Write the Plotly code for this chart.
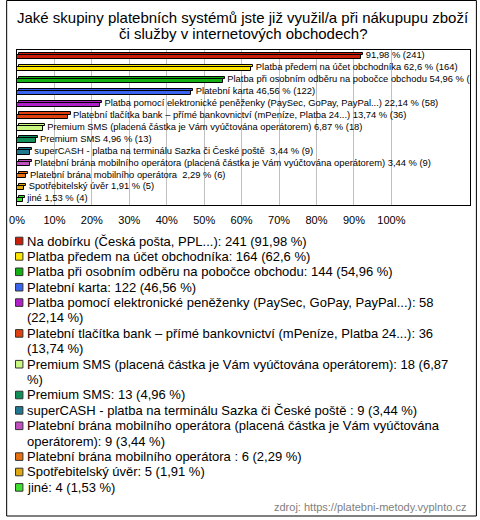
import plotly.graph_objects as go

# ---------------- data ----------------
names = [
    "Na dobírku (Česká pošta, PPL...)",
    "Platba předem na účet obchodníka",
    "Platba při osobním odběru na pobočce obchodu",
    "Platební karta",
    "Platba pomocí elektronické peněženky (PaySec, GoPay, PayPal...)",
    "Platební tlačítka bank – přímé bankovnictví (mPeníze, Platba 24...)",
    "Premium SMS (placená částka je Vám vyúčtována operátorem)",
    "Premium SMS",
    "superCASH - platba na terminálu Sazka či České poště ",
    "Platební brána mobilního operátora (placená částka je Vám vyúčtována operátorem)",
    "Platební brána mobilního operátora ",
    "Spotřebitelský úvěr",
    "jiné",
]
counts = [241, 164, 144, 122, 58, 36, 18, 13, 9, 9, 6, 5, 4]
percents = [91.98, 62.6, 54.96, 46.56, 22.14, 13.74, 6.87, 4.96, 3.44, 3.44, 2.29, 1.91, 1.53]
colors = ["#c81e0a", "#ffe600", "#12b012", "#3a64f0", "#b020c8", "#e04010", "#c8f880",
          "#109058", "#207890", "#c050c0", "#e87010", "#e0a810", "#40e030"]
x_ticks = [0, 10, 20, 30, 40, 50, 60, 70, 80, 90, 100]
x_tick_labels = ["0%", "10%", "20%", "30%", "40%", "50%", "60%", "70%", "80%", "90%", "100%"]
title_lines = ["Jaké skupiny platebních systémů jste již využil/a při nákupupu zboží",
               "či služby v internetových obchodech?"]
source_text = "zdroj: https://platebni-metody.vyplnto.cz"

# ---------------- layout helpers ----------------
W, H = 480, 520
ML, MR, MT, MB = 11, 9, 50, 315
PW, PH = W - ML - MR, H - MT - MB
FONT = "Liberation Sans, Arial, sans-serif"


def px(x):
    return (x - ML) / PW


def py(y):
    return (H - MB - y) / PH


def fmt(v):
    return f"{v:g}".replace(".", ",")


cats = list(range(len(names)))
fig = go.Figure()

# top face (3D look) and front face of each bar
for i in cats:
    fig.add_trace(go.Bar(
        y=[i], x=[percents[i]], base=[0.55], orientation="h",
        width=0.17, offset=-0.26,
        marker=dict(color=colors[i], line=dict(color="#000000", width=1)),
        showlegend=False, hoverinfo="skip"))
    fig.add_trace(go.Bar(
        y=[i], x=[percents[i]], base=[0], orientation="h",
        width=0.36, offset=-0.09,
        marker=dict(color=colors[i], line=dict(color="#000000", width=1)),
        showlegend=False, hoverinfo="skip"))

bar_labels = []
for i in cats:
    val = f"{fmt(percents[i])} % ({counts[i]})"
    bar_labels.append(val if i == 0 else f"{names[i]} {val}")

fig.add_trace(go.Scatter(
    y=cats, x=[p + 1.2 for p in percents], mode="text", text=bar_labels,
    textposition="middle right", cliponaxis=True,
    textfont=dict(family=FONT, size=9.4, color="#000000"),
    showlegend=False, hoverinfo="skip"))

annotations = []
shapes = []

# title
for k, line in enumerate(title_lines):
    annotations.append(dict(x=px(240), y=py(17 + 16 * k), xref="paper", yref="paper",
                            text=line, showarrow=False, xanchor="center", yanchor="middle",
                            font=dict(family=FONT, size=15, color="#000000")))

# legend (custom, below chart)
wrap_after = {4: 68, 5: 71, 6: 67, 9: 68}
line_y = 241
step = 15.4
for i in cats:
    txt = f"{names[i]}: {counts[i]} ({fmt(percents[i])} %)"
    lines = [txt]
    if i in wrap_after:
        n = wrap_after[i]
        lines = [txt[:n].rstrip(), txt[n:].strip()]
    shapes.append(dict(type="rect", xref="paper", yref="paper",
                       x0=px(9.5), x1=px(17), y0=py(line_y - 3.8), y1=py(line_y + 3.8),
                       fillcolor=colors[i], line=dict(color="#333333", width=1)))
    for ln in lines:
        annotations.append(dict(x=px(19.5), y=py(line_y), xref="paper", yref="paper",
                                text=ln, showarrow=False, xanchor="left", yanchor="middle",
                                font=dict(family=FONT, size=13, color="#000000")))
        line_y += step

# source
annotations.append(dict(x=px(469), y=py(507), xref="paper", yref="paper",
                        text=source_text, showarrow=False, xanchor="right", yanchor="middle",
                        font=dict(family=FONT, size=11, color="#808080")))

# outer border
shapes.append(dict(type="rect", xref="paper", yref="paper",
                   x0=px(0.5), x1=px(477.5), y0=py(0.5), y1=py(516),
                   fillcolor="rgba(0,0,0,0)", line=dict(color="#000000", width=1)))

fig.update_layout(
    width=W, height=H,
    margin=dict(l=ML, r=MR, t=MT, b=MB, pad=0),
    paper_bgcolor="#ffffff", plot_bgcolor="#ffffff",
    barmode="overlay", bargap=0,
    showlegend=False,
    annotations=annotations, shapes=shapes,
    font=dict(family=FONT, color="#000000"),
    xaxis=dict(range=[0, 121], tickvals=x_ticks, ticktext=x_tick_labels,
               showgrid=True, gridcolor="#c0c0c0", gridwidth=1,
               zeroline=False, showline=True, linecolor="#000000", linewidth=1, mirror=True,
               ticks="", ticklabelstandoff=5,
               tickfont=dict(family=FONT, size=11, color="#000000")),
    yaxis=dict(range=[len(names) - 0.5, -0.5], showticklabels=False, showgrid=False,
               zeroline=False, showline=True, linecolor="#000000", linewidth=1, mirror=True,
               ticks=""),
)

fig.write_html("out.html", config={"displayModeBar": False},
               post_script="document.body.style.margin='0px';")
